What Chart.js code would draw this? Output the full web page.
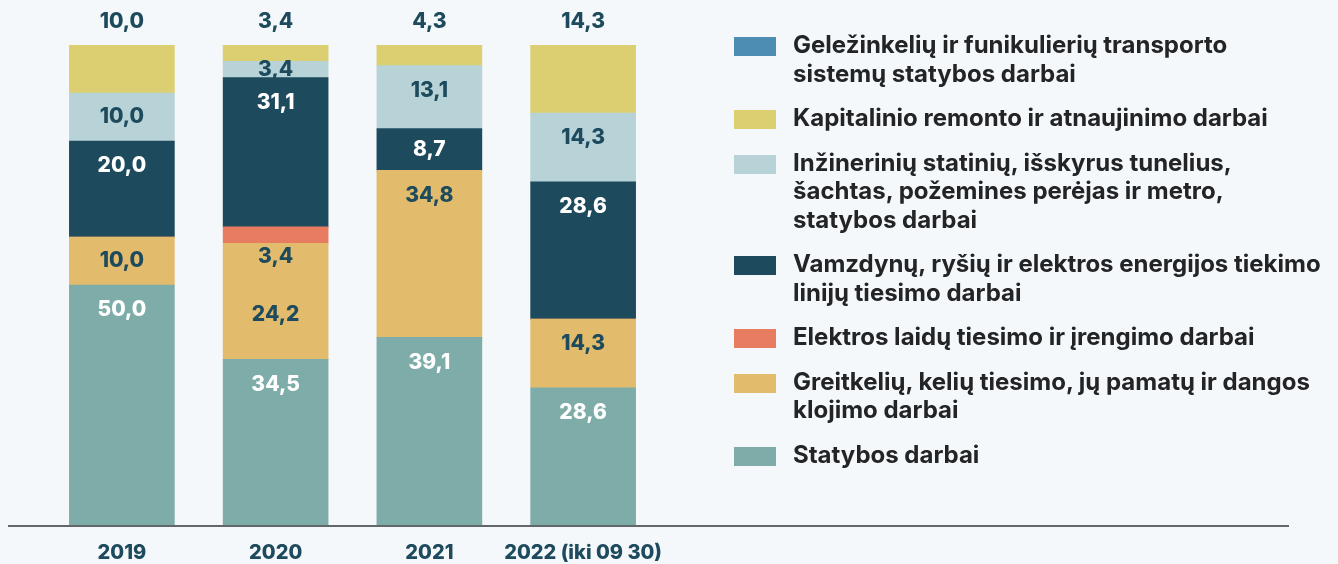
<!DOCTYPE html>
<html lang="lt">
<head>
<meta charset="utf-8">
<script src="https://cdn.jsdelivr.net/npm/chart.js@4.4.1/dist/chart.umd.min.js"></script>
<style>
  html, body { margin: 0; padding: 0; background: #F5F8FB; }
  #wrap { position: relative; width: 1338px; height: 564px; overflow: hidden; }
  #chart { position: absolute; left: 0; top: 0; }
  #legend { position: absolute; left: 734px; top: 31px; width: 600px;
            font-family: Inter, "Noto Sans", sans-serif; font-weight: 700;
            font-size: 24px; line-height: 28.5px; color: #222426; }
  .item { display: flex; align-items: flex-start; margin-bottom: 16px; }
  .sw { width: 42px; height: 19px; flex: none; margin-top: 6px; margin-right: 17px; }
</style>
</head>
<body>
<div id="wrap">
  <canvas id="chart" width="1338" height="564"></canvas>
  <div id="legend"></div>
</div>
<script>
// Years on the horizontal axis
const categories = ['2019', '2020', '2021', '2022 (iki 09 30)'];

// Shares of work types, %, stacked bottom to top
const statybos      = [50.0, 34.5, 39.1, 28.6];
const greitkeliu    = [10.0, 24.2, 34.8, 14.3];
const elektrosLaidu = [0,    3.4,  0,    0];
const vamzdynu      = [20.0, 31.1, 8.7,  28.6];
const inzineriniu   = [10.0, 3.4,  13.1, 14.3];
const kapitalinio   = [10.0, 3.4,  4.3,  14.3];
const gelezinkeliu  = [0,    0,    0,    0];

// Legend lines per series
const nameStatybos = ['Statybos darbai'];
const nameGreitkeliu = ['Greitkelių, kelių tiesimo, jų pamatų ir dangos', 'klojimo darbai'];
const nameElektros = ['Elektros laidų tiesimo ir įrengimo darbai'];
const nameVamzdynu = ['Vamzdynų, ryšių ir elektros energijos tiekimo', 'linijų tiesimo darbai'];
const nameInzineriniu = ['Inžinerinių statinių, išskyrus tunelius,', 'šachtas, požemines perėjas ir metro,', 'statybos darbai'];
const nameKapitalinio = ['Kapitalinio remonto ir atnaujinimo darbai'];
const nameGelezinkeliu = ['Geležinkelių ir funikulierių transporto', 'sistemų statybos darbai'];

const NAVY = '#1D4A5C';
const WHITE = '#FFFFFF';
const FONT = 'Inter, "Noto Sans", sans-serif';

const datasets = [
  { lines: nameStatybos, data: statybos, backgroundColor: '#7EADA9', labelColor: WHITE, placement: 'inside' },
  { lines: nameGreitkeliu, data: greitkeliu, backgroundColor: '#E2BC6C', labelColor: NAVY, placement: 'inside' },
  { lines: nameElektros, data: elektrosLaidu, backgroundColor: '#E87C61', labelColor: NAVY, placement: 'below' },
  { lines: nameVamzdynu, data: vamzdynu, backgroundColor: '#1D4A5C', labelColor: WHITE, placement: 'inside' },
  { lines: nameInzineriniu, data: inzineriniu, backgroundColor: '#B8D3D8', labelColor: NAVY, placement: 'inside' },
  { lines: nameKapitalinio, data: kapitalinio, backgroundColor: '#DCCF72', labelColor: NAVY, placement: 'above' },
  { lines: nameGelezinkeliu, data: gelezinkeliu, backgroundColor: '#4D8DB3', labelColor: NAVY, placement: 'inside' }
].map(d => Object.assign({ label: d.lines.join(' '), barThickness: 105, borderWidth: 0 }, d));

const fmt = v => v.toFixed(1).replace('.', ',');

// Value labels written over the stacked segments
const segmentLabels = {
  id: 'segmentLabels',
  afterDatasetsDraw(chart) {
    const ctx = chart.ctx;
    ctx.save();
    ctx.font = '800 21px ' + FONT;
    ctx.textAlign = 'center';
    ctx.textBaseline = 'middle';
    const nCat = chart.data.labels.length;
    for (let i = 0; i < nCat; i++) {
      let pushedBelow = null; // a label from the segment above that sits in the next one down
      for (let d = chart.data.datasets.length - 1; d >= 0; d--) {
        const ds = chart.data.datasets[d];
        const v = ds.data[i];
        if (!v) continue;
        const el = chart.getDatasetMeta(d).data[i];
        const top = Math.min(el.y, el.base), bottom = Math.max(el.y, el.base);
        const x = el.x;
        if (ds.placement === 'above') {
          ctx.fillStyle = NAVY;
          ctx.fillText(fmt(v), x, top - 23);
          continue;
        }
        if (ds.placement === 'below') {
          const y = bottom + 13;
          ctx.fillStyle = NAVY;
          ctx.fillText(fmt(v), x, y);
          pushedBelow = y + 13;
          continue;
        }
        let y;
        if (pushedBelow !== null) {
          y = (pushedBelow + bottom) / 2;
          pushedBelow = null;
        } else {
          y = Math.min(top + 25, (top + bottom) / 2);
        }
        ctx.fillStyle = ds.labelColor;
        ctx.fillText(fmt(v), x, y);
      }
    }
    ctx.restore();
  }
};

// Long baseline under the bars
const baseline = {
  id: 'baseline',
  afterDatasetsDraw(chart) {
    const ctx = chart.ctx;
    const y = chart.scales.y.getPixelForValue(0);
    ctx.save();
    ctx.strokeStyle = '#62686A';
    ctx.lineWidth = 2;
    ctx.beginPath();
    ctx.moveTo(8, y + 1);
    ctx.lineTo(1289, y + 1);
    ctx.stroke();
    ctx.restore();
  }
};

new Chart(document.getElementById('chart'), {
  type: 'bar',
  data: { labels: categories, datasets },
  options: {
    responsive: false,
    animation: false,
    layout: { padding: { left: 45, right: 678, top: 45, bottom: 0 } },
    plugins: { legend: { display: false }, tooltip: { enabled: false } },
    scales: {
      x: {
        stacked: true,
        grid: { display: false, drawTicks: false },
        border: { display: false },
        afterFit: s => { s.height = 39; },
        ticks: {
          color: NAVY,
          font: { family: FONT, size: 20, weight: '800' },
          padding: 16,
          maxRotation: 0,
          minRotation: 0,
          autoSkip: false
        }
      },
      y: {
        stacked: true,
        display: false,
        min: 0,
        max: 100
      }
    }
  },
  plugins: [segmentLabels, baseline]
});

// Legend, top item first
const legend = document.getElementById('legend');
datasets.slice().reverse().forEach(ds => {
  const item = document.createElement('div');
  item.className = 'item';
  const sw = document.createElement('div');
  sw.className = 'sw';
  sw.style.background = ds.backgroundColor;
  const txt = document.createElement('div');
  ds.lines.forEach((ln, k) => {
    if (k) txt.appendChild(document.createElement('br'));
    txt.appendChild(document.createTextNode(ln));
  });
  item.appendChild(sw);
  item.appendChild(txt);
  legend.appendChild(item);
});
</script>
</body>
</html>
